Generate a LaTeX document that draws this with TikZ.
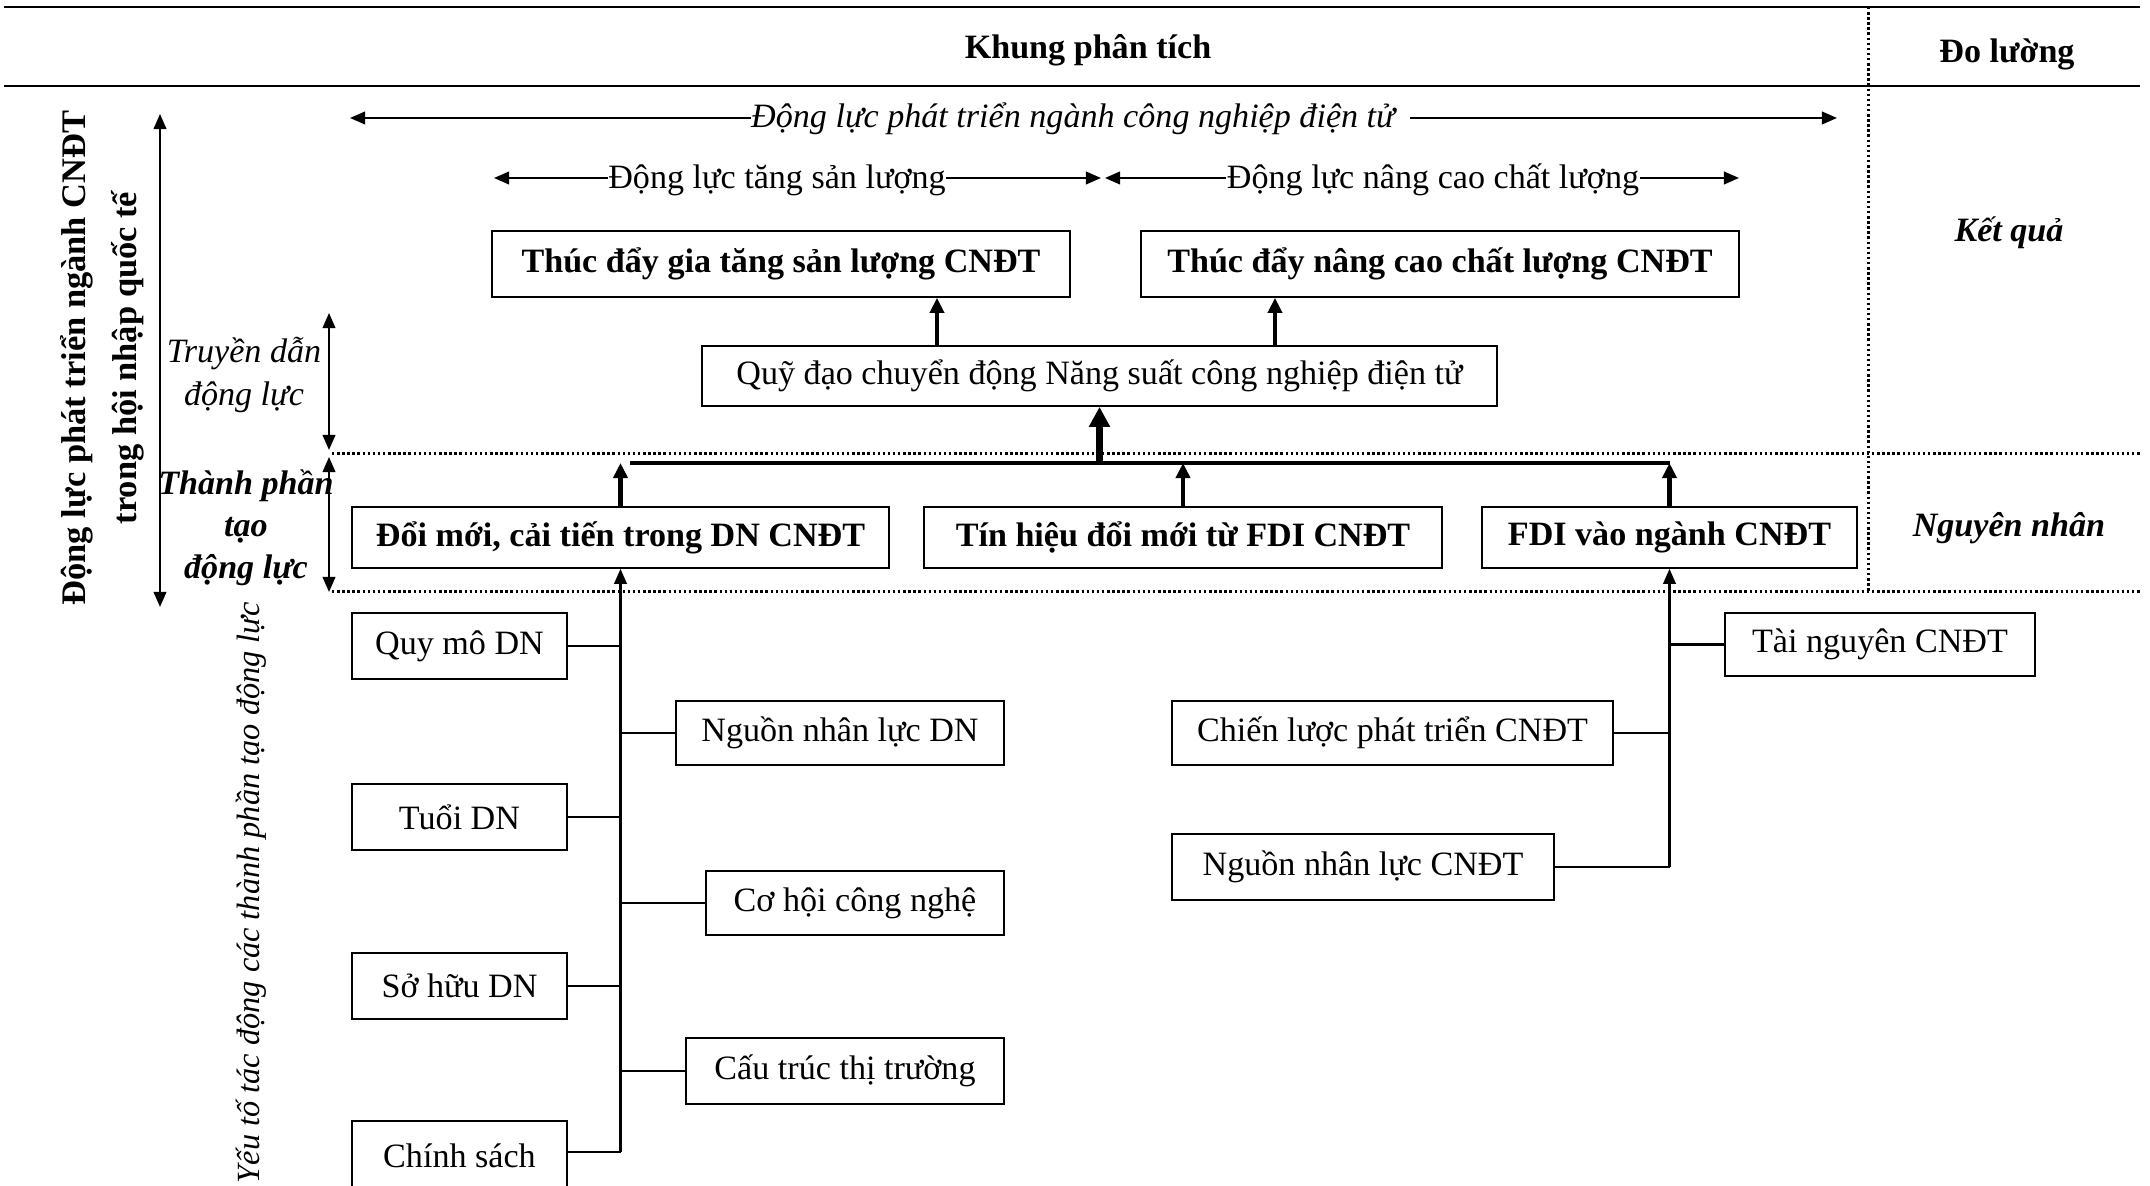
\documentclass[tikz,border=0pt]{standalone}
\usepackage{fontspec}
\setmainfont{Liberation Serif}
\usetikzlibrary{arrows.meta}

\begin{document}
\begin{tikzpicture}[x=0.01cm,y=-0.01cm,
  txt/.style={inner sep=0pt, font=\fontsize{9.7}{11.6}\selectfont},
  btxt/.style={inner sep=0pt, font=\fontsize{9.7}{11.6}\selectfont\bfseries},
  itxt/.style={inner sep=0pt, font=\fontsize{9.7}{11.6}\selectfont\itshape},
  bitxt/.style={inner sep=0pt, font=\fontsize{9.7}{11.6}\selectfont\bfseries\itshape},
  box/.style 2 args={draw, line width=0.5pt, inner sep=0pt,
    minimum width=#1*0.01cm, minimum height=#2*0.01cm,
    font=\fontsize{9.7}{11.6}\selectfont},
  bbox/.style 2 args={box={#1}{#2}, font=\fontsize{9.7}{11.6}\selectfont\bfseries},
  tipthin/.tip={Triangle[length=4.3pt,width=3.6pt]},
  thinarrow/.style={line width=0.6pt, -tipthin},
  midarrow/.style={line width=1.2pt, -{Triangle[length=4.3pt,width=4pt]}},
  bigarrow/.style={line width=2pt, -{Triangle[length=5.7pt,width=5.7pt]}},
  dualarrow/.style={line width=0.6pt, tipthin-tipthin},
  link/.style={line width=0.6pt},
  bus/.style={line width=0.9pt},
  rule/.style={line width=0.6pt},
  dotline/.style={line width=0.85pt, dash pattern=on 0.7pt off 0.75pt}
]
\useasboundingbox (0,0) rectangle (2150,1186);

% frame rules and separators
\draw[rule] (4,7) -- (2140,7);
\draw[rule] (4,86) -- (2140,86);
\draw[dotline] (1868,7) -- (1868,592);
\draw[dotline] (332,454) -- (2140,454);
\draw[dotline] (332,592) -- (2140,592);

% headers
\node[btxt, anchor=base] (hkhung) at (1088,59) {Khung phân tích};
\node[btxt, anchor=base] (hdo) at (2007,63) {Đo lường};

% measurement column
\node[bitxt] (kq) at (2009,233) {Kết quả};
\node[bitxt] (nn) at (2009,528) {Nguyên nhân};

% span arrows
\node[itxt, anchor=base] (dlall) at (1073,128) {Động lực phát triển ngành công nghiệp điện tử};
\coordinate (dlallL) at (350,118);
\coordinate (dlallR) at (1837,118);
\draw[thinarrow] (dlall.west |- dlallL) -- (dlallL);
\draw[thinarrow] ([xshift=15*0.01cm]dlall.east |- dlallR) -- (dlallR);

\node[txt, anchor=base] (dlsl) at (777,189) {Động lực tăng sản lượng};
\coordinate (dlslL) at (494,178);
\coordinate (dlslR) at (1101,178);
\draw[thinarrow] (dlsl.west |- dlslL) -- (dlslL);
\draw[thinarrow] (dlsl.east |- dlslR) -- (dlslR);

\node[txt, anchor=base] (dlcl) at (1433,189) {Động lực nâng cao chất lượng};
\coordinate (dlclL) at (1105,178);
\coordinate (dlclR) at (1739,178);
\draw[thinarrow] (dlcl.west |- dlclL) -- (dlclL);
\draw[thinarrow] (dlcl.east |- dlclR) -- (dlclR);

% result boxes
\node[bbox={578}{66}] (b1) at (781,264) {Thúc đẩy gia tăng sản lượng CNĐT};
\node[bbox={598}{66}] (b2) at (1440,264) {Thúc đẩy nâng cao chất lượng CNĐT};
\node[box={795}{60}] (q) at (1099.5,376) {Quỹ đạo chuyển động Năng suất công nghiệp điện tử};
\coordinate (ua) at (937,0);
\coordinate (ub) at (1275,0);
\draw[midarrow] (q.north -| ua) -- (b1.south -| ua);
\draw[midarrow] (q.north -| ub) -- (b2.south -| ub);

% driving components
\node[bbox={537}{61}] (d1) at (620.5,537.5) {Đổi mới, cải tiến trong DN CNĐT};
\node[bbox={518}{61}] (d2) at (1183,537.5) {Tín hiệu đổi mới từ FDI CNĐT};
\node[bbox={375}{61}] (d3) at (1669.5,537.5) {FDI vào ngành CNĐT};

\coordinate (busL) at (630,463);
\draw[bus] (busL) -- (d3.north |- busL);
\draw[midarrow] (d1.north) -- (d1.north |- busL);
\draw[midarrow] (d2.north) -- (d2.north |- busL);
\draw[midarrow] (d3.north) -- (d3.north |- busL);
\draw[bigarrow] (q.south |- busL) -- (q.south);

% firm-level factors
\node[box={215}{66}] (f1) at (459.5,646) {Quy mô DN};
\node[box={215}{66}] (f2) at (459.5,817) {Tuổi DN};
\node[box={215}{66}] (f3) at (459.5,986) {Sở hữu DN};
\node[box={215}{69}] (f4) at (459.5,1155.5) {Chính sách};
\node[box={328}{64}] (g1) at (840,733) {Nguồn nhân lực DN};
\node[box={298}{64}] (g2) at (855,903) {Cơ hội công nghệ};
\node[box={318}{66}] (g3) at (845,1071) {Cấu trúc thị trường};

\coordinate (tl) at (620.5,1152);
\draw[thinarrow] (tl) -- (d1.south);
\draw[link] (f1.east) -- (f1.east -| tl);
\draw[link] (f2.east) -- (f2.east -| tl);
\draw[link] (f3.east) -- (f3.east -| tl);
\draw[link] (f4.east |- tl) -- (tl);
\draw[link] (g1.west) -- (g1.west -| tl);
\draw[link] (g2.west) -- (g2.west -| tl);
\draw[link] (g3.west) -- (g3.west -| tl);

% industry-level factors
\node[box={310}{63}] (h1) at (1880,644.5) {Tài nguyên CNĐT};
\node[box={441}{64}] (h2) at (1392.5,733) {Chiến lược phát triển CNĐT};
\node[box={382}{66}] (h3) at (1363,867) {Nguồn nhân lực CNĐT};

\draw[thinarrow] (h3.east -| d3.south) -- (d3.south);
\draw[link] (h1.west) -- (h1.west -| d3.south);
\draw[link] (h2.east) -- (h2.east -| d3.south);
\draw[link] (h3.east) -- (h3.east -| d3.south);

% left-hand labels
\node[rotate=90, align=center, inner sep=0pt,
  font=\fontsize{9.8}{14.5}\selectfont\bfseries] (ttl) at (102,358)
  {Động lực phát triển ngành CNĐT\\trong hội nhập quốc tế};
\coordinate (axT) at (160,114);
\coordinate (axB) at (160,607);
\draw[dualarrow] (axT) -- (axB);

\node[align=center, inner sep=0pt,
  font=\fontsize{9.7}{12.2}\selectfont\itshape] (tdl) at (244,375)
  {Truyền dẫn\\động lực};
\node[align=center, inner sep=0pt,
  font=\fontsize{9.7}{12}\selectfont\bfseries\itshape] (tpl) at (246,528)
  {Thành phần\\tạo\\động lực};
\coordinate (tdT) at (329,313);
\coordinate (tdB) at (329,450);
\coordinate (tpT) at (329,457);
\coordinate (tpB) at (329,592);
\draw[dualarrow] (tdT) -- (tdB);
\draw[dualarrow] (tpT) -- (tpB);

\node[inner sep=0pt, font=\fontsize{9.2}{11}\selectfont\itshape,
  rotate=90, anchor=west] (ytl) at (251,1184)
  {Yếu tố tác động các thành phần tạo động lực};

\end{tikzpicture}
\end{document}
